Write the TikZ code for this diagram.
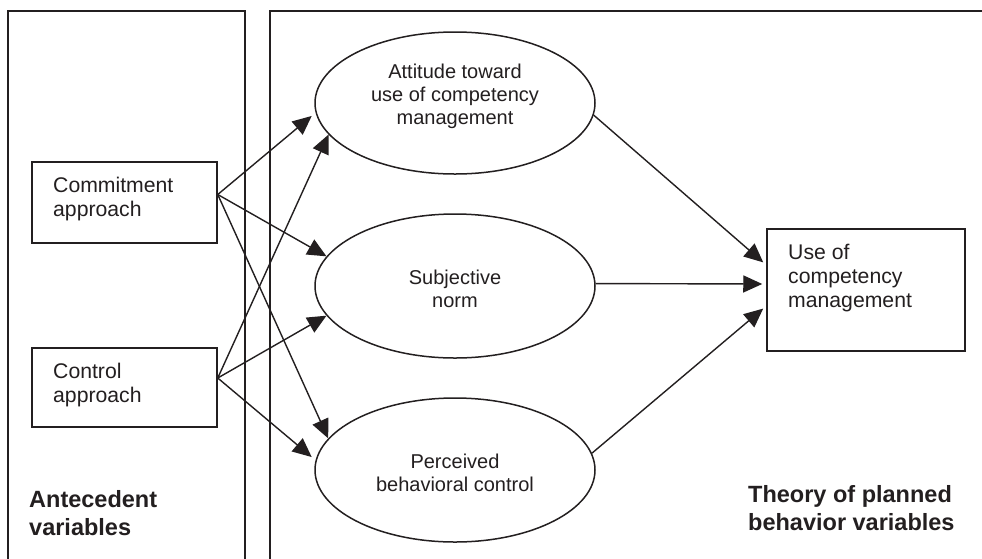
\documentclass[tikz,border=0pt]{standalone}
\usepackage{fontspec}
\setmainfont{Liberation Sans}
\usetikzlibrary{arrows.meta,shapes.geometric}
\definecolor{ink}{HTML}{231F20}
\begin{document}
\begin{tikzpicture}[x=1pt,y=-1pt,
  panel/.style={draw=ink,line width=1.8pt},
  box/.style={draw=ink,line width=1.5pt,inner sep=0pt},
  ell/.style={draw=ink,ellipse,line width=1.5pt,inner sep=0pt,minimum width=280pt},
  lbl/.style={text=ink,font=\fontsize{21.2}{24}\selectfont,align=left,anchor=base west,inner sep=0pt},
  ctr/.style={text=ink,font=\fontsize{20}{23}\selectfont,align=center,anchor=base,inner sep=0pt},
  bold/.style={text=ink,font=\fontsize{23.5}{28}\selectfont\bfseries,align=left,anchor=base west,inner sep=0pt},
  arr/.style={draw=ink,line width=1.4pt,-{Triangle[length=19pt,width=17pt]}}
]
\useasboundingbox (0,0) rectangle (982,558);
\fill[white] (0,0) rectangle (982,558);
% panels
\draw[panel] (8,600) -- (8,10.7) -- (245,10.7) -- (245,600);
\draw[panel] (270,600) -- (270,10.7) -- (1000,10.7);
% boxes
\node[box,minimum width=185pt,minimum height=81pt] (cb) at (124.5,202.5) {};
\node[box,minimum width=185pt,minimum height=79pt] (kb) at (124.5,387.5) {};
\node[box,minimum width=198pt,minimum height=122pt] (ub) at (866,290) {};
% ellipses
\node[ell,minimum height=142pt] (e1) at (455,103) {};
\node[ell,minimum height=144pt] (e2) at (455,286) {};
\node[ell,minimum height=144pt] (e3) at (455,470) {};
% texts (base anchor = baseline of last line)
\node[lbl] (ct) at (53,216) {Commitment\\approach};
\node[lbl] (kt) at (53,402.5) {Control\\approach};
\node[lbl] (ut) at (788,307.3) {Use of\\competency\\management};
\node[ctr] (e1t) at (455,124) {Attitude toward\\use of competency\\management};
\node[ctr] (e2t) at (455,307) {Subjective\\norm};
\node[ctr] (e3t) at (455,491.7) {Perceived\\behavioral control};
\node[bold] (ant) at (29,535) {Antecedent\\variables};
\node[bold] (tpb) at (748,530) {Theory of planned\\behavior variables};
% arrows from antecedents
\draw[arr,shorten >=5pt] ([yshift=8pt]cb.east) -- (e1.184);
\draw[arr] ([yshift=8pt]cb.east) -- (e2.167);
\draw[arr] ([yshift=8pt]cb.east) -- (e3.166);
\draw[arr] ([yshift=9.5pt]kb.east) -- (e1.194);
\draw[arr] ([yshift=9.5pt]kb.east) -- (e2.193.5);
\draw[arr,shorten >=5pt] ([yshift=9.5pt]kb.east) -- (e3.176);
% arrows to outcome
\draw[arr,shorten >=4pt] (e1.355) -- ([yshift=25pt]ub.west);
\draw[arr,shorten >=4pt] (e2.1) -- ([yshift=6pt]ub.west);
\draw[arr,shorten >=4pt] (e3.7) -- ([yshift=-16pt]ub.west);
\end{tikzpicture}
\end{document}
